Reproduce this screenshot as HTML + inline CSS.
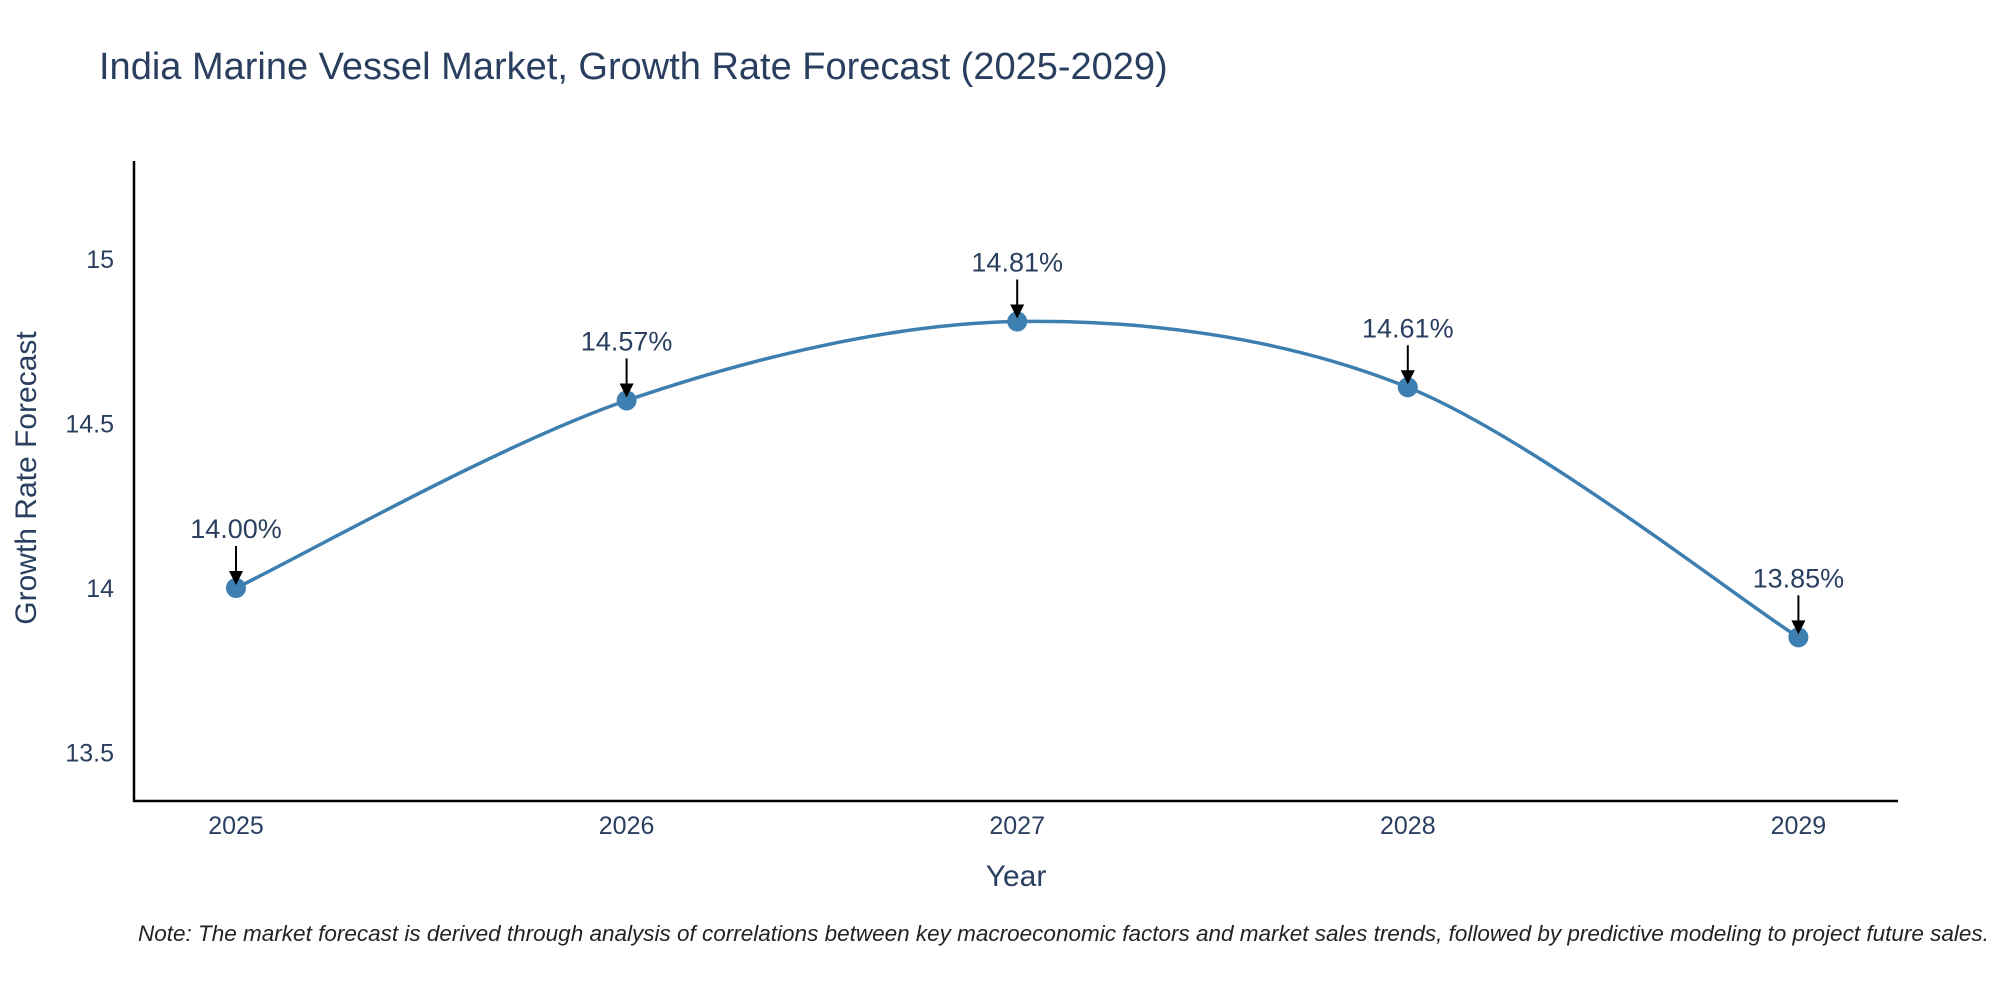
<!DOCTYPE html>
<html><head><meta charset="utf-8"><style>
body{margin:0;background:#fff;}
svg{display:block;font-family:"Liberation Sans",sans-serif;}
</style></head><body>
<svg id="chart" width="2000" height="1000" viewBox="0 0 2000 1000">
<text x="99" y="79" font-size="38" fill="#2a3f5f">India Marine Vessel Market, Growth Rate Forecast (2025-2029)</text>
<g id="yticks"></g>
<g id="xticks"></g>
<line x1="134" y1="161" x2="134" y2="802" stroke="#000" stroke-width="2.5"/>
<line x1="133" y1="801" x2="1898" y2="801" stroke="#000" stroke-width="2.5"/>
<path id="line" fill="none" stroke="#3d7fb0" stroke-width="3.5"/>
<g id="points"></g>
<g id="annots"></g>
<text x="1016" y="886" font-size="30" fill="#2a3f5f" text-anchor="middle">Year</text>
<text transform="translate(36,478) rotate(-90)" font-size="30" fill="#2a3f5f" text-anchor="middle">Growth Rate Forecast</text>
<text x="138" y="941" font-size="22.5" font-style="italic" fill="#222">Note: The market forecast is derived through analysis of correlations between key macroeconomic factors and market sales trends, followed by predictive modeling to project future sales.</text>
</svg>
<script>
const years = [2025, 2026, 2027, 2028, 2029];
const rates = [14.00, 14.57, 14.81, 14.61, 13.85];
const labels = ["14.00%", "14.57%", "14.81%", "14.61%", "13.85%"];
const yTicks = [13.5, 14, 14.5, 15];

const NS = "http://www.w3.org/2000/svg";
const xs = v => 236 + (v - 2025) * 390.6;
const ys = v => 588 - (v - 14) * 329;
function mk(tag, attrs, parent) {
  const e = document.createElementNS(NS, tag);
  for (const k in attrs) e.setAttribute(k, attrs[k]);
  parent.appendChild(e); return e;
}
const yt = document.getElementById('yticks');
yTicks.forEach(t => {
  const e = mk('text', {x: 114, y: ys(t) + 9, 'font-size': 25, fill: '#2a3f5f', 'text-anchor': 'end'}, yt);
  
  
  e.textContent = t;
});
const xt = document.getElementById('xticks');
years.forEach(y => {
  const e = mk('text', {x: xs(y), y: 834, 'font-size': 25, fill: '#2a3f5f', 'text-anchor': 'middle'}, xt);
  
  
  e.textContent = y;
});
const P = years.map((y, i) => [xs(y), ys(rates[i])]);
let d = `M${P[0][0]},${P[0][1]}`;
const s = 0.16;
for (let i = 0; i < P.length - 1; i++) {
  const p0 = P[Math.max(0, i - 1)], p1 = P[i], p2 = P[i + 1], p3 = P[Math.min(P.length - 1, i + 2)];
  const c1 = [p1[0] + (p2[0] - p0[0]) * s, p1[1] + (p2[1] - p0[1]) * s];
  const c2 = [p2[0] - (p3[0] - p1[0]) * s, p2[1] - (p3[1] - p1[1]) * s];
  d += ` C${c1[0]},${c1[1]} ${c2[0]},${c2[1]} ${p2[0]},${p2[1]}`;
}
document.getElementById('line').setAttribute('d', d);
const pts = document.getElementById('points'), an = document.getElementById('annots');
P.forEach((p, i) => {
  const c = mk('circle', {cx: p[0], cy: p[1], r: 10, fill: '#3d7fb0'}, pts);
  
  
  const l = mk('line', {x1: p[0], y1: p[1] - 42, x2: p[0], y2: p[1] - 14, stroke: '#000', 'stroke-width': 2}, an);
  
  
  const h = mk('path', {d: `M${p[0]-7},${p[1]-17} L${p[0]+7},${p[1]-17} L${p[0]},${p[1]-3} Z`, fill: '#000'}, an);
  
  
  const t = mk('text', {x: p[0], y: p[1] - 50, 'font-size': 27, fill: '#2a3f5f', 'text-anchor': 'middle'}, an);
  
  
  t.textContent = labels[i];
});
</script>
</body></html>
